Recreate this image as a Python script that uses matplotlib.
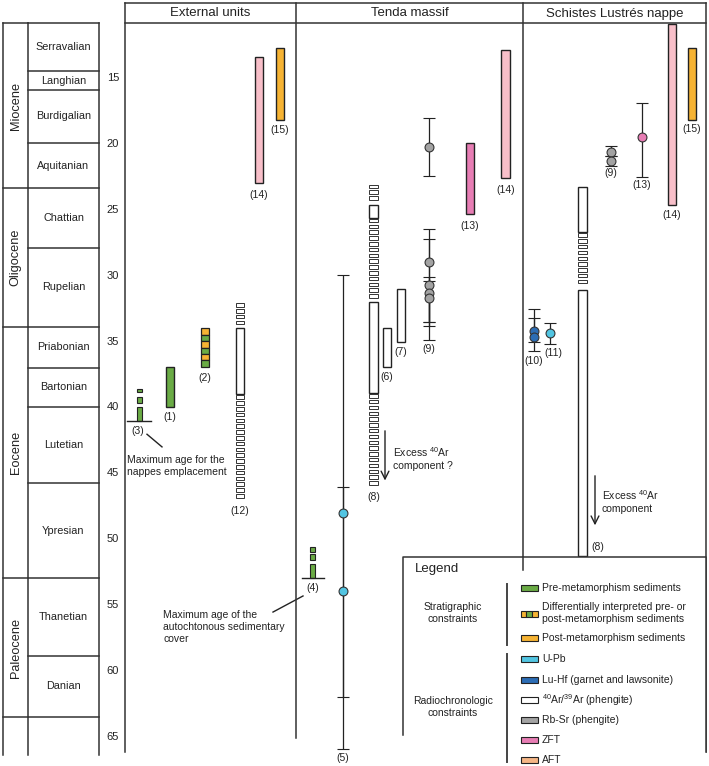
import numpy as np
import matplotlib
matplotlib.use('Agg')
import matplotlib.pyplot as plt
from matplotlib.patches import Rectangle

plt.rcParams['font.family'] = ['Liberation Sans', 'DejaVu Sans']
plt.rcParams['mathtext.default'] = 'regular'

GREEN  = '#6AAB45'
ORANGE = '#F6B333'
PINK   = '#F8BFC9'
ZFT    = '#E77DB4'
UPB    = '#52C5E2'
LUHF   = '#2C6DB5'
RBSR   = '#A3A3A3'
AFT    = '#F5B686'

# time scale as drawn (Ma)
stage_names  = ['Serravalian', 'Langhian', 'Burdigalian', 'Aquitanian', 'Chattian', 'Rupelian',
                'Priabonian', 'Bartonian', 'Lutetian', 'Ypresian', 'Thanetian', 'Danian']
stage_bounds = [10.83, 14.47, 15.91, 19.93, 23.35, 27.90, 33.89, 37.00, 39.96, 45.73, 52.94, 58.85, 63.48]
epoch_names  = ['Miocene', 'Oligocene', 'Eocene', 'Paleocene']
epoch_bounds = [10.83, 23.35, 33.89, 52.94, 63.48]
age_ticks    = [15, 20, 25, 30, 35, 40, 45, 50, 55, 60, 65]

# solid bars: x, top age, bottom age, colour
bar_x      = [259, 280, 170, 505.5, 470, 387, 401, 672, 692]
bar_top    = [13.4, 12.7, 36.9, 12.9, 19.9, 34.0, 31.0, 10.9, 12.7]
bar_bottom = [23.0, 18.2, 40.0, 22.6, 25.3, 36.9, 35.0, 24.6, 18.2]
bar_color  = [PINK, ORANGE, GREEN, PINK, ZFT, 'white', 'white', PINK, ORANGE]

# 40Ar/39Ar segments: x, top, bottom, solid (True) or dashed (False)
ar_x      = [240, 240, 240, 373.5, 373.5, 373.5, 373.5, 373.5, 582.5, 582.5, 582.5]
ar_top    = [32.0, 34.0, 39.0, 23.0, 24.6, 25.6, 32.0, 38.9, 23.3, 26.7, 31.1]
ar_bottom = [34.0, 39.0, 47.0, 24.6, 25.6, 32.0, 38.9, 46.0, 26.7, 30.6, 51.3]
ar_solid  = [False, True, False, False, True, False, True, False, True, False, True]

# (2) differentially interpreted sediments
strip_x, strip_top, strip_bottom = 205, 34.0, 36.9
strip_colors = [ORANGE, GREEN, ORANGE, GREEN, ORANGE, GREEN]

# (3) and (4) pre-metamorphism sediments over a base line
sed_x      = [139.5, 312.5]
sed_boxes  = [[(38.60, 38.85), (39.18, 39.63), (39.94, 41.0)],
              [(50.61, 50.94), (51.12, 51.57), (51.87, 52.91)]]
sed_base   = [41.0, 52.91]
sed_base_x = [(127, 151), (302, 324)]

# point ages with error bars: x, age, min, max, colour
pt_x     = [429, 429, 429, 429, 429, 343, 343, 642, 611, 611, 534, 534, 550]
pt_age   = [20.2, 28.96, 30.71, 31.31, 31.69, 48.0, 53.92, 19.48, 20.61, 21.30, 34.20, 34.65, 34.35]
pt_min   = [18.0, 26.46, 27.22, 30.10, 30.40, 29.95, 46.03, 16.90, 20.16, 20.92, 32.53, 33.21, 33.59]
pt_max   = [22.4, 33.51, 33.82, 34.88, 33.51, 61.97, 65.91, 22.51, 20.92, 21.68, 35.71, 35.03, 35.18]
pt_color = [RBSR, RBSR, RBSR, RBSR, RBSR, UPB, UPB, ZFT, RBSR, RBSR, LUHF, LUHF, UPB]

# reference numbers
ref_text = ['(14)', '(15)', '(12)', '(2)', '(1)', '(3)',
            '(14)', '(13)', '(8)', '(6)', '(7)', '(9)', '(4)', '(5)',
            '(14)', '(15)', '(13)', '(9)', '(8)', '(10)', '(11)']
ref_x    = [259, 280, 240, 205, 170, 138,
            505.5, 470, 374, 387, 401, 429, 313, 343,
            672, 692, 642, 611, 598, 534, 553]
ref_age  = [23.88, 18.95, 47.85, 37.76, 40.72, 41.78,
            23.50, 26.23, 46.79, 37.69, 35.79, 35.56, 53.70, 66.59,
            25.39, 18.87, 23.12, 22.21, 50.58, 36.47, 35.87]

legend_labels = ['Pre-metamorphism sediments',
                 'Differentially interpreted pre- or\npost-metamorphism sediments',
                 'Post-metamorphism sediments', 'U-Pb', 'Lu-Hf (garnet and lawsonite)',
                 '$^{40}$Ar/$^{39}$Ar (phengite)', 'Rb-Sr (phengite)', 'ZFT', 'AFT']
legend_colors = [GREEN, 'strip', ORANGE, UPB, LUHF, 'white', RBSR, ZFT, AFT]

W, H = 709, 766
fig = plt.figure(figsize=(W / 100, H / 100), dpi=100)

# data axes: x in layout units, y in Ma
ax = fig.add_axes([0, 0, 1, 1])
ax.set_xlim(0, W)
ax.set_ylim(15 + (H - 78) / 13.18, 15 - 78 / 13.18)
ax.axis('off')

lw = 1.1
fs = 7.5

# stratigraphic column
ax.plot([3, 3], [stage_bounds[0], 66.4], color='#333333', lw=lw)
ax.plot([28, 28], [stage_bounds[0], 66.4], color='#333333', lw=lw)
ax.plot([99, 99], [stage_bounds[0], 66.4], color='#333333', lw=lw)
for b in stage_bounds:
    ax.plot([28, 99], [b, b], color='#333333', lw=lw)
for b in epoch_bounds:
    ax.plot([3, 28], [b, b], color='#333333', lw=lw)
for i, name in enumerate(stage_names):
    ax.text(63.5, (stage_bounds[i] + stage_bounds[i + 1]) / 2, name,
            ha='center', va='center', fontsize=7.8, color='#222222')
for i, name in enumerate(epoch_names):
    ax.text(15.5, (epoch_bounds[i] + epoch_bounds[i + 1]) / 2, name, rotation=90,
            ha='center', va='center', fontsize=9.2, color='#222222')
for t in age_ticks:
    ax.text(113, t, str(t), ha='center', va='center', fontsize=8, color='#222222')


def dashed(x, top, bottom, fill, w=8.5, period=0.44, h=0.27):
    starts = np.arange(top + (period - h) / 2, bottom - h + 1e-6, period)
    for s in starts:
        ax.add_patch(Rectangle((x - w / 2, s), w, h, facecolor=fill,
                               edgecolor='#333333', lw=0.7, zorder=3))


for x, t, b, c in zip(bar_x, bar_top, bar_bottom, bar_color):
    ax.add_patch(Rectangle((x - 4.25, t), 8.5, b - t, facecolor=c,
                           edgecolor='#222222', lw=1.0, zorder=3))

for x, t, b, s in zip(ar_x, ar_top, ar_bottom, ar_solid):
    if s:
        ax.add_patch(Rectangle((x - 4.25, t), 8.5, b - t, facecolor='white',
                               edgecolor='#222222', lw=1.0, zorder=3))
    else:
        dashed(x, t, b, 'white')

seg = (strip_bottom - strip_top) / len(strip_colors)
for i, c in enumerate(strip_colors):
    ax.add_patch(Rectangle((strip_x - 4.25, strip_top + i * seg), 8.5, seg,
                           facecolor=c, edgecolor='#222222', lw=0.9, zorder=3))

for x, boxes, base, (bx0, bx1) in zip(sed_x, sed_boxes, sed_base, sed_base_x):
    for t, b in boxes:
        ax.add_patch(Rectangle((x - 2.7, t), 5.4, b - t, facecolor=GREEN,
                               edgecolor='#222222', lw=0.8, zorder=3))
    ax.plot([bx0, bx1], [base, base], color='#222222', lw=1.0, zorder=3)

for x, a, lo, hi, c in zip(pt_x, pt_age, pt_min, pt_max, pt_color):
    ax.errorbar(x, a, yerr=[[a - lo], [hi - a]], fmt='o', ms=6.4, mfc=c, mec='#333333',
                mew=0.8, ecolor='#222222', elinewidth=0.9, capsize=4.5, capthick=0.9, zorder=4)

for t, x, a in zip(ref_text, ref_x, ref_age):
    ax.text(x, a, t, ha='center', va='center', fontsize=fs, color='#222222', zorder=5)

# annotations
ax.plot([147, 162], [41.78 + 0.25, 42.99], color='#222222', lw=1.0)
ax.text(127, 44.45, 'Maximum age for the\nnappes emplacement', ha='left', va='center',
        fontsize=fs, color='#222222', linespacing=1.25)
ax.plot([303, 273], [54.30, 55.52], color='#222222', lw=1.0)
ax.text(163, 56.65, 'Maximum age of the\nautochtonous sedimentary\ncover', ha='left', va='center',
        fontsize=fs, color='#222222', linespacing=1.25)
ax.annotate('', xy=(385, 45.75), xytext=(385, 41.56),
            arrowprops=dict(arrowstyle='->', color='#222222', lw=1.0, mutation_scale=14))
ax.text(393, 43.83, 'Excess $^{40}$Ar\ncomponent ?', ha='left', va='center',
        fontsize=fs, color='#222222', linespacing=1.3)
ax.annotate('', xy=(595, 49.15), xytext=(595, 44.97),
            arrowprops=dict(arrowstyle='->', color='#222222', lw=1.0, mutation_scale=14))
ax.text(602, 47.09, 'Excess $^{40}$Ar\ncomponent', ha='left', va='center',
        fontsize=fs, color='#222222', linespacing=1.3)

# frame and legend axes in pixel units
fr = fig.add_axes([0, 0, 1, 1])
fr.set_xlim(0, W)
fr.set_ylim(H, 0)
fr.patch.set_alpha(0)
fr.axis('off')

for x, y1 in [(125, 752), (296, 738), (523, 570), (706, 752)]:
    fr.plot([x, x], [3, y1], color='#333333', lw=lw)
fr.plot([125, 706], [3, 3], color='#333333', lw=lw)
fr.plot([125, 706], [23, 23], color='#333333', lw=lw)
for x, title in [(210.5, 'External units'), (409.5, 'Tenda massif'), (614.5, 'Schistes Lustrés nappe')]:
    fr.text(x, 13.5, title, ha='center', va='center', fontsize=9.5, color='#222222')

# legend
fr.add_patch(Rectangle((403, 557), 303, 200, facecolor='white', edgecolor='none', zorder=5))
fr.plot([403, 403, 706, 706], [735, 557, 557, 752], color='#333333', lw=lw, zorder=6)
fr.plot([523, 523], [557, 570], color='#333333', lw=lw, zorder=6)
fr.text(415, 569, 'Legend', ha='left', va='center', fontsize=9.5, color='#222222', zorder=6)
fr.plot([507, 507], [584, 645], color='#444444', lw=1.4, zorder=6)
fr.plot([507, 507], [654, 762], color='#444444', lw=1.4, zorder=6)
fr.text(453, 613, 'Stratigraphic\nconstraints', ha='center', va='center', fontsize=fs,
        color='#222222', linespacing=1.3, zorder=6)
fr.text(453, 707, 'Radiochronologic\nconstraints', ha='center', va='center', fontsize=fs,
        color='#222222', linespacing=1.3, zorder=6)
leg_y = [588, 613.5, 638, 659, 680, 700, 720, 740, 760]
for y, lab, c in zip(leg_y, legend_labels, legend_colors):
    if c == 'strip':
        for i, sc in enumerate([ORANGE, GREEN, ORANGE]):
            fr.add_patch(Rectangle((520.5 + i * 5.7, y - 3), 5.7, 6, facecolor=sc,
                                   edgecolor='#222222', lw=0.8, zorder=6))
    else:
        fr.add_patch(Rectangle((520.5, y - 3), 17, 6, facecolor=c,
                               edgecolor='#222222', lw=0.8, zorder=6))
    fr.text(542, y, lab, ha='left', va='center', fontsize=fs, color='#222222',
            linespacing=1.25, zorder=6)

fig.savefig('out.png', dpi=100)
